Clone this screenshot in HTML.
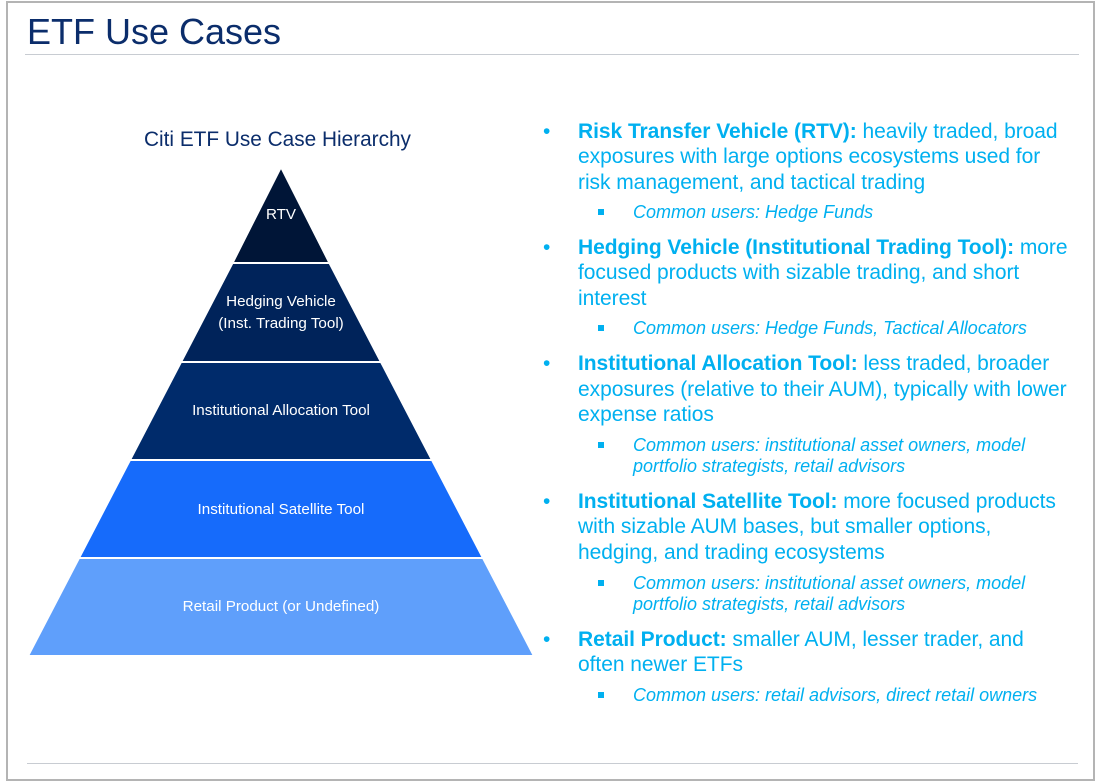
<!DOCTYPE html>
<html><head><style>
body{margin:0;width:1099px;height:771px;background:#fff;position:relative;overflow:hidden;font-family:"Liberation Sans",Arial,sans-serif}
.frame{position:absolute;left:6px;top:1px;width:1089px;height:780px;border:2px solid #b4b4b4;box-sizing:border-box}
.t{position:absolute;white-space:nowrap;color:#00b0f0;font-size:21px;letter-spacing:-0.05px}
.s{position:absolute;white-space:nowrap;color:#00b0f0;font-size:18px;font-style:italic}
.b{position:absolute;color:#00b0f0;font-size:21px}
.q{position:absolute;width:6px;height:6px;background:#00b0f0}
</style></head><body>
<div class="frame"></div>
<div style="position:absolute;left:27px;top:11px;font-size:36px;color:#0b2d6b">ETF Use Cases</div>
<div style="position:absolute;left:25px;top:54px;width:1054px;height:1px;background:#c8ccd2"></div>
<div style="position:absolute;left:27px;top:763px;width:1051px;height:1px;background:#c8ccd2"></div>
<div style="position:absolute;left:144px;top:128px;font-size:20.8px;color:#0b2d6b">Citi ETF Use Case Hierarchy</div>
<svg style="position:absolute;left:0;top:0" width="1099" height="771">
<g stroke="#fff" stroke-width="2">
<polygon points="281,167 329.5,263 232.5,263" fill="#001537"/>
<polygon points="232.5,263 329.5,263 381,362 181,362" fill="#00235a"/>
<polygon points="181,362 381,362 432,460 130,460" fill="#002b6b"/>
<polygon points="130,460 432,460 483,558 79,558" fill="#166bfb"/>
<polygon points="79,558 483,558 534,656 28,656" fill="#5f9ffb"/>
</g>
<g fill="#fff" font-family="Liberation Sans,Arial,sans-serif" font-size="15.2" text-anchor="middle">
<text x="281" y="219">RTV</text>
<text x="281" y="306">Hedging Vehicle</text>
<text x="281" y="328">(Inst. Trading Tool)</text>
<text x="281" y="415">Institutional Allocation Tool</text>
<text x="281" y="514">Institutional Satellite Tool</text>
<text x="281" y="611">Retail Product (or Undefined)</text>
</g>
</svg>
<div class="b" style="left:543px;top:120px">•</div>
<div class="t" style="left:578px;top:120px"><b>Risk Transfer Vehicle (RTV):</b> heavily traded, broad</div>
<div class="t" style="left:578px;top:145px">exposures with large options ecosystems used for</div>
<div class="t" style="left:578px;top:171px">risk management, and tactical trading</div>
<div class="q" style="left:598px;top:209px"></div>
<div class="s" style="left:633px;top:202px">Common users: Hedge Funds</div>

<div class="b" style="left:543px;top:236px">•</div>
<div class="t" style="left:578px;top:236px"><b>Hedging Vehicle (Institutional Trading Tool):</b> more</div>
<div class="t" style="left:578px;top:261px">focused products with sizable trading, and short</div>
<div class="t" style="left:578px;top:287px">interest</div>
<div class="q" style="left:598px;top:325px"></div>
<div class="s" style="left:633px;top:318px">Common users: Hedge Funds, Tactical Allocators</div>

<div class="b" style="left:543px;top:352px">•</div>
<div class="t" style="left:578px;top:352px"><b>Institutional Allocation Tool:</b> less traded, broader</div>
<div class="t" style="left:578px;top:378px">exposures (relative to their AUM), typically with lower</div>
<div class="t" style="left:578px;top:403px">expense ratios</div>
<div class="q" style="left:598px;top:442px"></div>
<div class="s" style="left:633px;top:435px">Common users: institutional asset owners, model</div>
<div class="s" style="left:633px;top:456px">portfolio strategists, retail advisors</div>

<div class="b" style="left:543px;top:490px">•</div>
<div class="t" style="left:578px;top:490px"><b>Institutional Satellite Tool:</b> more focused products</div>
<div class="t" style="left:578px;top:515px">with sizable AUM bases, but smaller options,</div>
<div class="t" style="left:578px;top:541px">hedging, and trading ecosystems</div>
<div class="q" style="left:598px;top:580px"></div>
<div class="s" style="left:633px;top:573px">Common users: institutional asset owners, model</div>
<div class="s" style="left:633px;top:594px">portfolio strategists, retail advisors</div>

<div class="b" style="left:543px;top:628px">•</div>
<div class="t" style="left:578px;top:628px"><b>Retail Product:</b> smaller AUM, lesser trader, and</div>
<div class="t" style="left:578px;top:653px">often newer ETFs</div>
<div class="q" style="left:598px;top:692px"></div>
<div class="s" style="left:633px;top:685px">Common users: retail advisors, direct retail owners</div>
</body></html>
